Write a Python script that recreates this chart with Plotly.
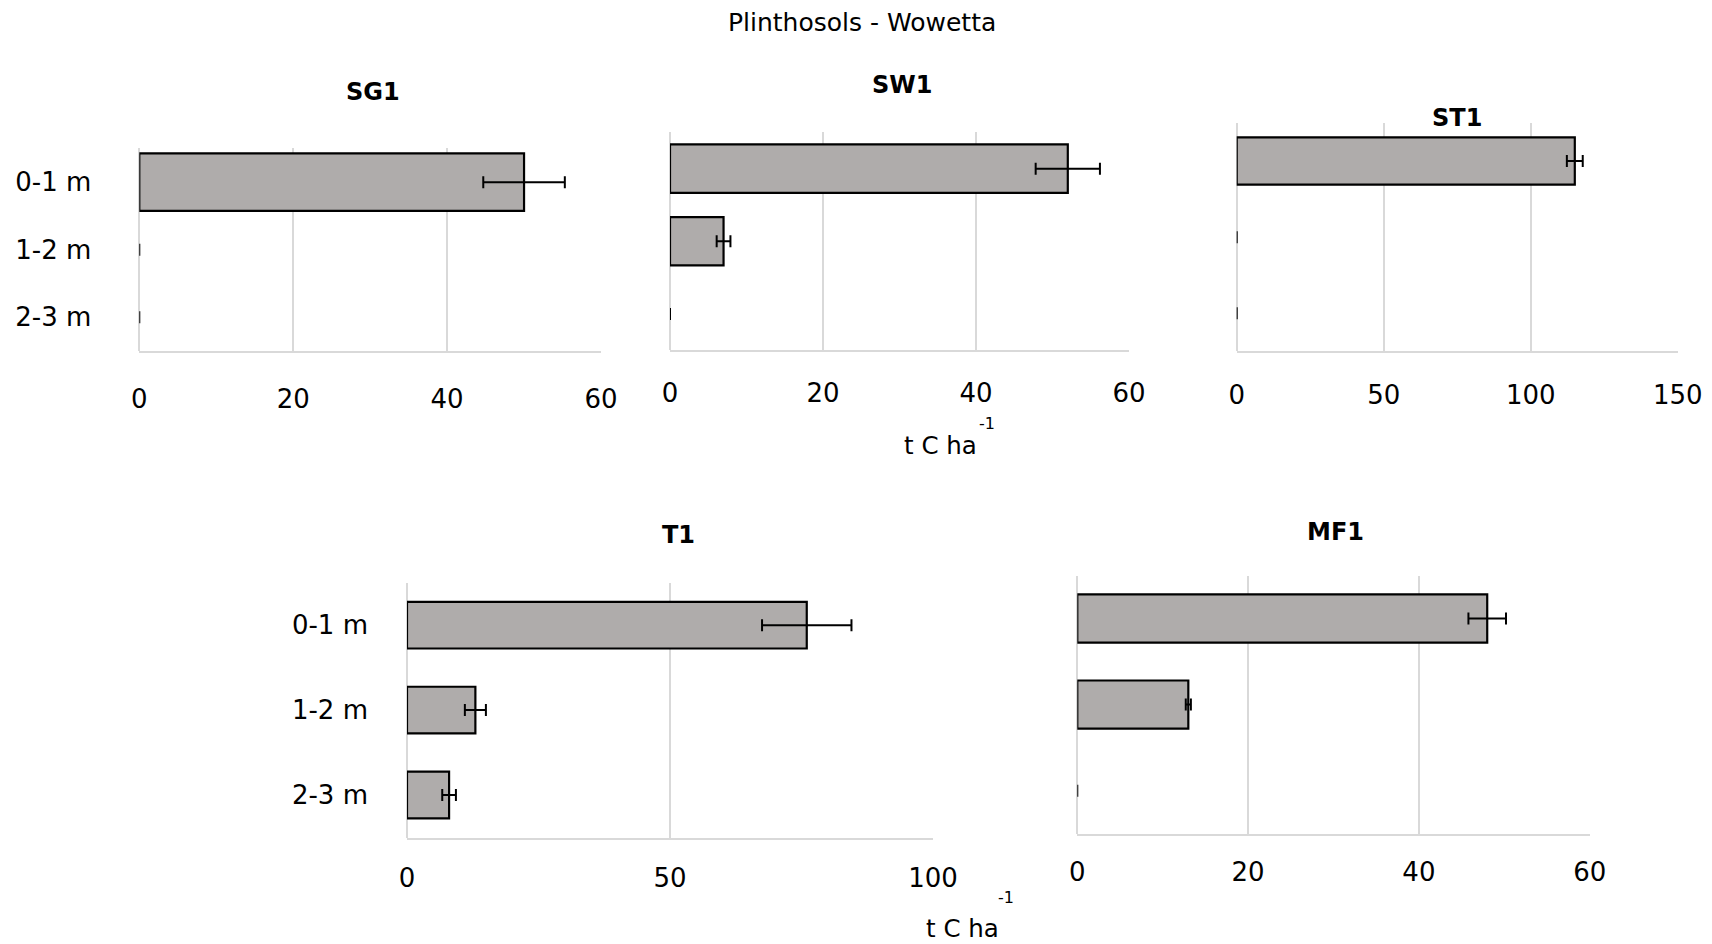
import plotly.graph_objects as go

# Soil organic carbon stocks (t C ha-1) by depth, per land-cover plot
depths = ["0-1 m", "1-2 m", "2-3 m"]

sg1 = [50, 0, 0]
sg1_err = [5.3, 0, 0]

sw1 = [52, 7, 0]
sw1_err = [4.2, 0.9, 0]

st1 = [115, 0, 0]
st1_err = [2.7, 0, 0]

t1 = [76, 13, 8]
t1_err = [8.5, 2.0, 1.3]

mf1 = [48, 13, 0]
mf1_err = [2.2, 0.3, 0]

x_tick_step = {"SG1": 20, "SW1": 20, "ST1": 50, "T1": 50, "MF1": 20}
x_max = {"SG1": 60, "SW1": 60, "ST1": 150, "T1": 100, "MF1": 60}

main_title = "Plinthosols - Wowetta"
unit_main = "t C ha"
unit_sup = "-1"

W, H = 1712, 944
FONT = "DejaVu Sans"
GRID = "#d9d9d9"
BAR_FILL = "#afacab"
OUTLINE = 2.2


def fx(px):
    return px / W


def fy(px):
    return 1 - px / H


# name, values, errors, plot box (left, right, top, bottom in px), bar thickness,
# show depth labels, label standoffs, title centre (px)
panels = [
    ("SG1", sg1, sg1_err, (139.3, 601.0, 148.4, 351.0), 0.85, True, 24, 47, (373, 92)),
    ("SW1", sw1, sw1_err, (670.0, 1129.0, 132.3, 350.3), 0.665, False, 18, 0, (902, 85)),
    ("ST1", st1, st1_err, (1236.7, 1677.7, 122.9, 351.4), 0.62, False, 19, 0, (1457, 118)),
    ("T1", t1, t1_err, (407.0, 933.0, 582.7, 837.5), 0.55, True, 16, 38, (678, 535)),
    ("MF1", mf1, mf1_err, (1077.3, 1589.7, 575.5, 833.7), 0.56, False, 14, 0, (1335, 532)),
]

fig = go.Figure()
layout = {}
annotations = []

for i, (name, vals, errs, box, thick, showcat, xstand, ystand, tpos) in enumerate(panels, start=1):
    left, right, top, bottom = box
    xa = "x" if i == 1 else f"x{i}"
    ya = "y" if i == 1 else f"y{i}"
    fig.add_trace(
        go.Bar(
            x=vals,
            y=depths,
            orientation="h",
            width=[thick] * len(depths),
            # empty bars get no outline; only their error cap remains
            marker=dict(color=BAR_FILL,
                        line=dict(color="black",
                                  width=[OUTLINE if v > 0 else 0 for v in vals])),
            error_x=dict(type="data", array=errs, visible=True,
                         color="black", thickness=2, width=6),
            xaxis=xa,
            yaxis=ya,
            cliponaxis=False,
            showlegend=False,
            hoverinfo="x+y",
        )
    )
    xkey = "xaxis" if i == 1 else f"xaxis{i}"
    ykey = "yaxis" if i == 1 else f"yaxis{i}"
    layout[xkey] = dict(
        domain=[fx(left), fx(right)],
        anchor=ya,
        range=[0, x_max[name]],
        dtick=x_tick_step[name],
        tick0=0,
        showgrid=True,
        gridcolor=GRID,
        gridwidth=2,
        zeroline=True,
        zerolinecolor=GRID,
        zerolinewidth=2,
        showline=True,
        linecolor=GRID,
        linewidth=2,
        ticks="",
        automargin=False,
        ticklabelstandoff=xstand,
        tickfont=dict(family=FONT, size=26, color="black"),
        fixedrange=True,
    )
    layout[ykey] = dict(
        domain=[fy(bottom), fy(top)],
        anchor=xa,
        type="category",
        categoryorder="array",
        categoryarray=depths,
        range=[len(depths) - 0.5, -0.5],
        showgrid=False,
        zeroline=False,
        showline=False,
        ticks="",
        automargin=False,
        showticklabels=showcat,
        ticklabelstandoff=ystand,
        tickfont=dict(family=FONT, size=26, color="black"),
        fixedrange=True,
    )
    annotations.append(dict(
        text=f"<b>{name}</b>", x=fx(tpos[0]), y=fy(tpos[1]),
        xref="paper", yref="paper", xanchor="center", yanchor="middle",
        showarrow=False, font=dict(family=FONT, size=24, color="black"),
    ))

# overall title
annotations.append(dict(
    text=main_title, x=fx(862), y=fy(23), xref="paper", yref="paper",
    xanchor="center", yanchor="middle", showarrow=False,
    font=dict(family=FONT, size=25, color="black"),
))

# unit labels under the middle of each row
for base_x, base_y, sup_x, sup_y in [(940.5, 445, 987, 423), (962, 928, 1006, 897.5)]:
    annotations.append(dict(
        text=unit_main, x=fx(base_x), y=fy(base_y), xref="paper", yref="paper",
        xanchor="center", yanchor="middle", showarrow=False,
        font=dict(family=FONT, size=24.5, color="black"),
    ))
    annotations.append(dict(
        text=unit_sup, x=fx(sup_x), y=fy(sup_y), xref="paper", yref="paper",
        xanchor="center", yanchor="middle", showarrow=False,
        font=dict(family=FONT, size=16, color="black"),
    ))

fig.update_layout(
    width=W,
    height=H,
    margin=dict(l=0, r=0, t=0, b=0, autoexpand=False),
    paper_bgcolor="white",
    plot_bgcolor="white",
    annotations=annotations,
    **layout,
)

fig.write_html("out.html", config={"displayModeBar": False})
